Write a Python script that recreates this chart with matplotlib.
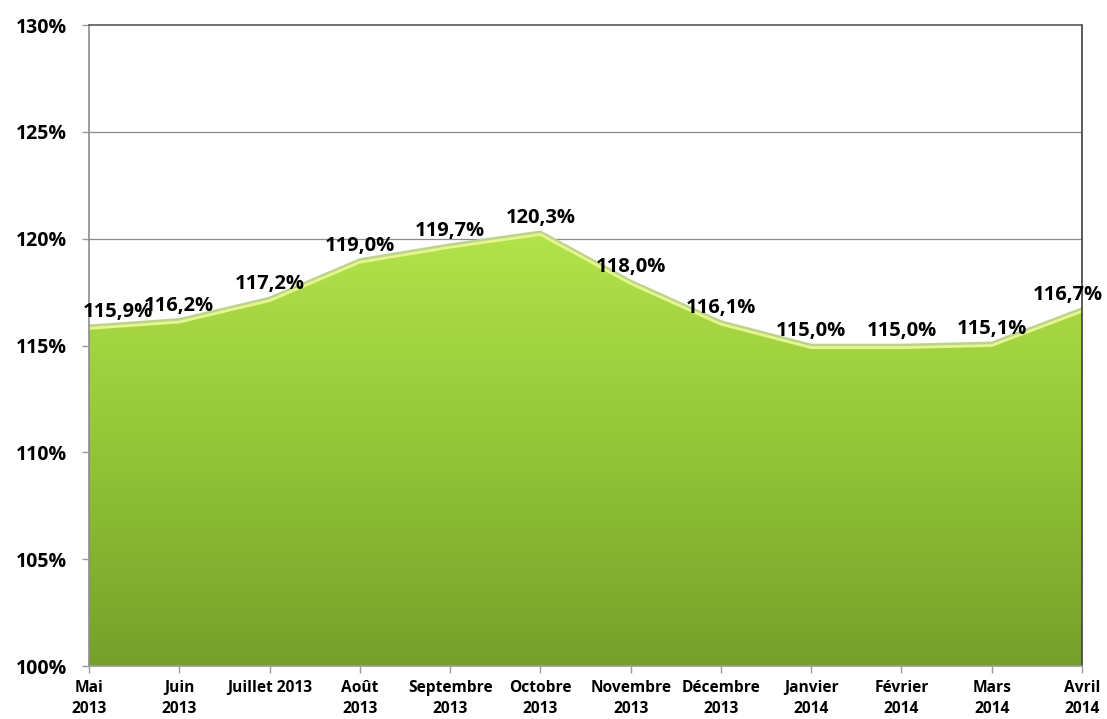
import matplotlib.pyplot as plt
import numpy as np
from matplotlib.colors import LinearSegmentedColormap

plt.rcParams['font.family'] = ['Open Sans', 'DejaVu Sans']

months = ['Mai\n2013', 'Juin\n2013', 'Juillet 2013', 'Août\n2013', 'Septembre\n2013',
          'Octobre\n2013', 'Novembre\n2013', 'Décembre\n2013', 'Janvier\n2014',
          'Février\n2014', 'Mars\n2014', 'Avril\n2014']
values = [115.9, 116.2, 117.2, 119.0, 119.7, 120.3, 118.0, 116.1, 115.0, 115.0, 115.1, 116.7]
yticks = [100, 105, 110, 115, 120, 125, 130]

fig = plt.figure(figsize=(11.07, 7.19), dpi=100)
ax = fig.add_axes([0.0804, 0.0737, 0.897, 0.8915])

x = np.arange(len(values))
ax.set_xlim(0, len(values) - 1)
ax.set_ylim(100, 130)

# gridlines behind
for t in yticks[1:-1]:
    ax.axhline(t, color='#8c8c8c', lw=0.9, zorder=0)

# gradient fill clipped to the area
poly = ax.fill_between(x, 100, values, color='none', zorder=1)
cmap = LinearSegmentedColormap.from_list('g', ['#76a02a', '#94c638', '#b5e54c'])
grad = np.linspace(0, 1, 256).reshape(-1, 1)
img = ax.imshow(grad, cmap=cmap, aspect='auto', origin='lower',
                extent=[0, len(values) - 1, 100, 121], zorder=1)
img.set_clip_path(poly.get_paths()[0], transform=ax.transData)

# top bevel
ax.plot(x, values, color='#bcd488', lw=2.6, zorder=2, solid_joinstyle='round')
ax.plot(x, np.array(values) - 0.1, color='#e6f68e', lw=2.0, zorder=3, solid_joinstyle='round')

# data labels
for i, v in enumerate(values):
    dx = 0
    if i == 0:
        dx = 21
    elif i == len(values) - 1:
        dx = -10
    ax.annotate(f'{v:.1f}%'.replace('.', ','), (i, v), xytext=(dx, 3),
                textcoords='offset points', ha='center', va='bottom',
                fontsize=14.5, fontweight='bold', color='black', zorder=5)

ax.set_yticks(yticks)
ax.set_yticklabels([f'{t}%' for t in yticks], fontsize=14, fontweight='bold')
ax.set_xticks(x)
ax.set_xticklabels(months, fontsize=11.2, fontweight='bold', linespacing=1.4)

ax.tick_params(axis='both', direction='out', color='#9a9a9a', length=5, width=1)
ax.tick_params(axis='y', pad=11)
ax.tick_params(axis='x', pad=5)

ax.spines['left'].set_color('#8c8c8c')
ax.spines['bottom'].set_color('#9a9a9a')
ax.spines['top'].set_color('#595959')
ax.spines['right'].set_color('#404040')
for s in ax.spines.values():
    s.set_linewidth(1.2)
    s.set_zorder(4)

plt.savefig('out.png', dpi=100)
